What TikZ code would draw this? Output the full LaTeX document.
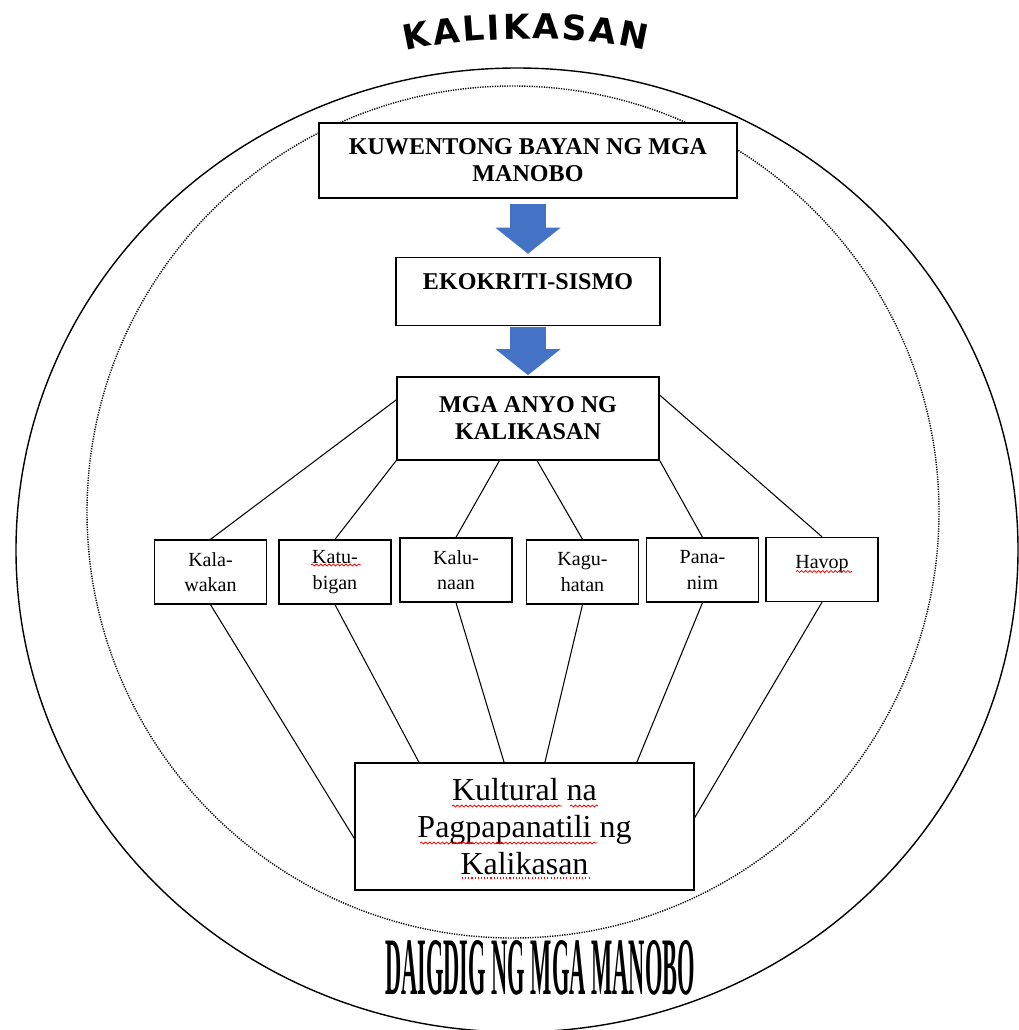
\documentclass[tikz,border=0pt]{standalone}
\usepackage{fontspec}
\setmainfont{Liberation Serif}
\newfontfamily\kalifont{DejaVu Sans}
\usetikzlibrary{positioning,arrows.meta,decorations.text,decorations.pathmorphing,calc}
\definecolor{arrowblue}{RGB}{68,114,196}
\newcommand\kalistyle{\kalifont\bfseries\fontsize{19.6pt}{19.6pt}\selectfont}
\tikzset{
  box/.style={draw,line width=0.8pt,fill=white,align=center,inner sep=2pt},
  headbox/.style={box,font=\fontsize{13.7pt}{15.4pt}\selectfont\bfseries},
  leaf/.style={box,minimum width=2.24cm,minimum height=1.28cm,font=\fontsize{11.4pt}{14.6pt}\selectfont},
  flow/.style={draw=arrowblue,line width=0.72cm,-{Triangle[width=1.3cm,length=0.52cm,line width=0pt]}},
  link/.style={line width=0.6pt},
  spell/.style={red,line width=0.45pt,decorate,decoration={snake,amplitude=0.55pt,segment length=2.4pt}}
}
\begin{document}
\begin{tikzpicture}
    \useasboundingbox (0,0) rectangle (20.38,-20.6);
    \draw[line width=0.8pt] (10.34,-11.0) ellipse (10.02 and 9.64);
    \draw[line width=0.8pt,dash pattern=on 0.7pt off 0.7pt] (10.26,-10.24) circle (8.52);

    \node[headbox,minimum width=8.36cm,minimum height=1.5cm] (kuwento) at (10.56,-3.21) {KUWENTONG BAYAN NG MGA\\MANOBO};
    \node[headbox,minimum width=5.28cm,minimum height=1.36cm,text height=0.36cm,text depth=0.44cm,below=1.16cm of kuwento] (ekokritisismo) {EKOKRITI-SISMO};
    \node[headbox,minimum width=5.24cm,minimum height=1.66cm,below=1cm of ekokritisismo] (anyo) {MGA ANYO NG\\KALIKASAN};
    \draw[flow] ([yshift=-0.1cm]kuwento.south) -- ([yshift=0.06cm]ekokritisismo.north);
    \draw[flow] ([yshift=-0.02cm]ekokritisismo.south) -- ([yshift=0.02cm]anyo.north);

    \foreach \n/\x/\y/\t in {kalawakan/4.21/-11.44/{Kala-\\wakan},katubigan/6.7/-11.44/{Katu-\\bigan},kalunaan/9.12/-11.4/{Kalu-\\naan},kaguhatan/11.65/-11.44/{Kagu-\\hatan},pananim/14.05/-11.4/{Pana-\\nim}}
      \node[leaf] (\n) at (\x,\y) {\t};
    \node[leaf,text depth=0.3cm] (havop) at (16.44,-11.39) {Havop};

    \node[box,minimum width=6.78cm,minimum height=2.54cm,font=\fontsize{18.2pt}{21pt}\selectfont] (kultural) at (10.49,-16.53) {Kultural na\\Pagpapanatili ng\\Kalikasan};

    \foreach \a/\b in {172/kalawakan,south west/katubigan,236/kalunaan,282/kaguhatan,south east/pananim,10/havop}
      \draw[link] (anyo.\a) -- (\b.north);
    \draw[link] (kalawakan.south) -- (kultural.184);
    \foreach \b/\f in {katubigan/0.19,kalunaan/0.44,kaguhatan/0.56,pananim/0.83}
      \draw[link] (\b.south) -- ($(kultural.north west)!\f!(kultural.north east)$);
    \draw[link] (havop.south) -- (kultural.3);

    \foreach \x/\y/\l in {9.04/-16.12/2.2,11.4/-16.12/0.56,8.4/-16.86/3.54,6.22/-11.3/1.0,15.92/-11.43/1.12}
      \draw[spell] (\x,\y) -- ++(\l,0);
    \draw[red,line width=0.6pt,dash pattern=on 0.6pt off 1.2pt] (9.24,-17.56) -- ++(2.56,0);

    \path[decorate,decoration={text along path,text align=fit to path,text={|\kalistyle|KALIKASAN}}] (8.12,-1.02) .. controls (9.4,-0.7) and (11.7,-0.7) .. (12.92,-1.02);
    \node[font=\bfseries\fontsize{38.7pt}{40pt}\selectfont] (daigdig) at (10.8,-19.36) {\scalebox{0.33}[1.2]{DAIGDIG NG MGA MANOBO}};

  \end{tikzpicture}
\end{document}
